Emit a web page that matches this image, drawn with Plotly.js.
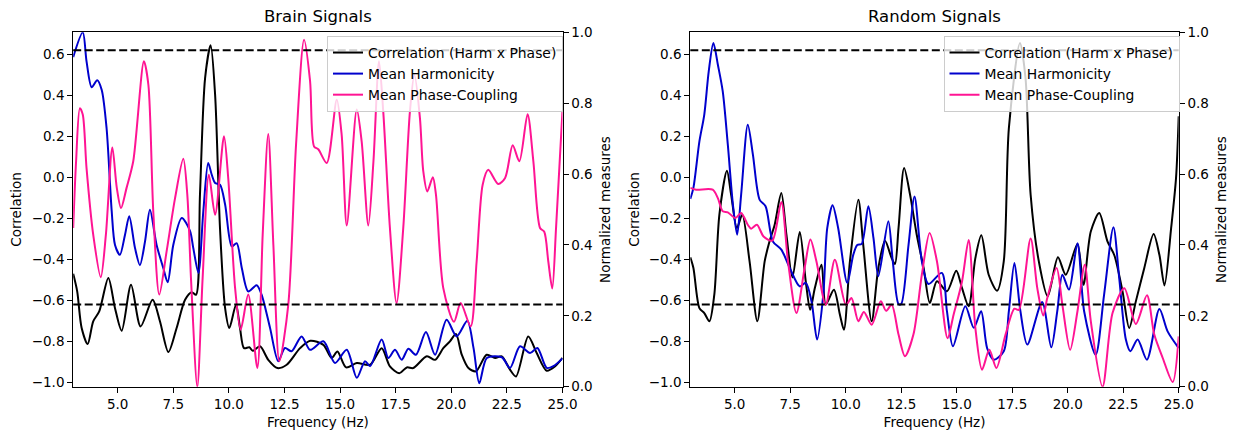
<!DOCTYPE html>
<html>
<head>
<meta charset="utf-8">
<script src="https://cdn.plot.ly/plotly-3.0.1.min.js"></script>
<style>html,body{margin:0;padding:0;background:#fff;}#chart{width:1239px;height:440px;}</style>
</head>
<body>
<div id="chart"></div>
<script>
// ---------------- DATA ----------------
const panelTitles = ["Brain Signals", "Random Signals"];
const seriesNames = ["Correlation (Harm x Phase)", "Mean Harmonicity", "Mean Phase-Coupling"];
const threshold = 0.62;
const xTicks = [5.0, 7.5, 10.0, 12.5, 15.0, 17.5, 20.0, 22.5, 25.0];
const corrTicks = [-1.0, -0.8, -0.6, -0.4, -0.2, 0.0, 0.2, 0.4, 0.6];
const normTicks = [0.0, 0.2, 0.4, 0.6, 0.8, 1.0];

// Brain signals: correlation
const bCorrX = [3.0,3.18,3.38,3.65,3.9,4.17,4.58,4.88,5.18,5.6,6.03,6.57,6.9,7.28,7.65,8.03,8.33,8.52,8.7,8.93,9.18,9.38,9.6,9.83,10.02,10.32,10.5,10.68,10.92,11.07,11.4,11.77,12.18,12.6,13.2,13.66,14.25,14.62,14.88,15.27,15.75,16.35,16.87,17.24,17.66,18.0,18.29,18.9,19.27,19.64,19.94,20.21,20.47,20.77,21.11,21.59,21.97,22.27,22.64,22.91,23.46,23.84,24.29,24.66,25.0];
const bCorrY = [-0.47,-0.556,-0.735,-0.813,-0.702,-0.654,-0.491,-0.638,-0.748,-0.524,-0.727,-0.597,-0.702,-0.852,-0.735,-0.597,-0.56,-0.573,-0.085,0.484,0.644,0.403,-0.247,-0.638,-0.735,-0.621,-0.735,-0.833,-0.829,-0.846,-0.824,-0.89,-0.93,-0.914,-0.833,-0.797,-0.817,-0.881,-0.849,-0.927,-0.906,-0.914,-0.833,-0.922,-0.955,-0.927,-0.93,-0.873,-0.89,-0.833,-0.8,-0.764,-0.865,-0.93,-0.946,-0.865,-0.881,-0.873,-0.938,-0.971,-0.776,-0.857,-0.943,-0.922,-0.88];
// Brain signals: mean harmonicity (normalized)
const bHarmX = [3.0,3.43,3.6,3.83,4.08,4.28,4.5,4.73,4.88,5.1,5.33,5.52,5.78,6.0,6.23,6.45,6.75,7.05,7.25,7.5,7.88,8.25,8.4,8.63,8.85,9.07,9.23,9.38,9.6,9.83,10.13,10.35,10.58,10.87,11.25,11.47,11.85,12.22,12.52,12.82,13.27,13.65,14.25,14.77,15.3,15.75,16.12,16.35,16.87,17.17,17.47,17.77,18.07,18.41,18.86,19.27,19.79,20.24,20.72,21.0,21.26,21.6,22.27,22.64,23.09,23.54,23.87,24.29,24.59,25.0];
const bHarmY = [0.93,1.0,0.918,0.845,0.865,0.838,0.73,0.496,0.40,0.372,0.429,0.481,0.391,0.343,0.41,0.499,0.40,0.335,0.295,0.40,0.476,0.44,0.391,0.321,0.495,0.631,0.598,0.575,0.57,0.514,0.396,0.405,0.335,0.269,0.286,0.26,0.166,0.072,0.109,0.10,0.142,0.104,0.128,0.067,0.104,0.025,0.072,0.058,0.133,0.081,0.104,0.076,0.107,0.09,0.154,0.09,0.189,0.142,0.186,0.109,0.01,0.081,0.083,0.053,0.114,0.095,0.109,0.053,0.058,0.08];
// Brain signals: mean phase-coupling (normalized)
const bPhaseX = [3.0,3.13,3.3,3.43,3.6,3.9,4.24,4.47,4.76,4.96,5.15,5.4,5.7,6.18,6.38,6.6,6.87,7.2,7.58,7.95,8.13,8.3,8.58,8.82,9.1,9.38,9.78,9.97,10.28,10.53,10.87,11.28,11.52,11.77,12.0,12.27,12.67,13.02,13.38,13.65,13.83,14.02,14.4,14.85,15.07,15.3,15.75,15.97,16.27,16.5,16.75,16.94,17.24,17.54,17.84,18.14,18.34,18.59,18.74,18.92,19.17,19.31,19.64,20.12,20.42,20.87,21.14,21.41,21.66,22.11,22.42,22.76,23.06,23.43,23.69,23.99,24.18,24.36,24.54,24.71,25.0];
const bPhaseY = [0.448,0.636,0.786,0.768,0.617,0.429,0.309,0.429,0.675,0.561,0.504,0.561,0.636,0.918,0.852,0.495,0.26,0.382,0.532,0.643,0.542,0.30,0.0,0.307,0.598,0.485,0.707,0.589,0.278,0.161,0.26,0.053,0.429,0.713,0.40,0.072,0.231,0.683,0.979,0.862,0.678,0.67,0.631,0.81,0.711,0.455,0.782,0.692,0.455,0.636,0.918,0.777,0.448,0.236,0.448,0.777,0.88,0.758,0.608,0.551,0.591,0.542,0.278,0.183,0.236,0.17,0.354,0.57,0.612,0.572,0.589,0.681,0.636,0.769,0.636,0.448,0.437,0.354,0.277,0.448,0.78];

// Random signals: correlation
const rCorrX = [3.0,3.14,3.41,3.63,3.86,4.08,4.31,4.65,4.84,5.1,5.34,5.67,6.02,6.35,6.57,6.8,7.1,7.33,7.6,7.93,8.2,8.4,8.61,8.91,9.1,9.47,9.74,9.92,10.19,10.57,10.79,11.17,11.47,11.77,12.07,12.22,12.38,12.63,12.9,13.2,13.51,13.79,14.11,14.56,14.98,15.24,15.54,15.84,16.11,16.44,16.82,17.12,17.35,17.85,18.1,18.33,18.7,19.1,19.56,19.91,20.44,20.71,21.04,21.42,21.79,22.1,22.47,22.77,23.07,23.45,23.87,24.13,24.36,24.66,24.88,25.0];
const rCorrY = [-0.39,-0.442,-0.638,-0.662,-0.702,-0.573,-0.182,0.032,-0.085,-0.247,-0.182,-0.41,-0.702,-0.41,-0.312,-0.231,-0.077,-0.28,-0.488,-0.267,-0.507,-0.646,-0.54,-0.426,-0.621,-0.548,-0.67,-0.743,-0.41,-0.109,-0.329,-0.702,-0.442,-0.309,-0.394,-0.423,-0.247,0.045,-0.085,-0.28,-0.442,-0.613,-0.507,-0.556,-0.456,-0.54,-0.629,-0.394,-0.283,-0.475,-0.553,-0.41,0.24,0.655,0.484,-0.085,-0.41,-0.58,-0.39,-0.475,-0.325,-0.524,-0.264,-0.174,-0.312,-0.38,-0.556,-0.735,-0.605,-0.442,-0.277,-0.378,-0.527,-0.247,-0.003,0.298];
// Random signals: mean harmonicity (normalized)
const rHarmX = [3.0,3.14,3.41,3.63,3.83,4.04,4.24,4.46,4.69,4.92,5.11,5.29,5.59,5.82,6.12,6.39,6.72,7.1,7.48,7.93,8.2,8.46,8.71,8.99,9.17,9.41,9.66,10.07,10.34,10.52,10.72,11.02,11.25,11.47,11.92,12.12,12.38,12.5,12.83,13.1,13.43,13.73,14.33,14.56,14.83,15.39,15.77,16.1,16.37,16.67,17.12,17.35,17.6,17.87,18.18,18.85,19.26,19.53,19.76,20.06,20.44,20.74,21.26,21.64,22.06,22.32,22.62,22.82,23.15,23.57,24.13,24.5,25.0];
const rHarmY = [0.53,0.561,0.692,0.768,0.89,0.97,0.909,0.834,0.683,0.514,0.429,0.542,0.739,0.655,0.528,0.509,0.41,0.387,0.335,0.283,0.293,0.241,0.133,0.26,0.448,0.512,0.448,0.293,0.372,0.40,0.403,0.509,0.42,0.312,0.467,0.354,0.233,0.233,0.40,0.537,0.354,0.29,0.321,0.213,0.114,0.227,0.166,0.213,0.109,0.076,0.10,0.213,0.349,0.213,0.119,0.239,0.111,0.213,0.316,0.274,0.405,0.213,0.09,0.26,0.45,0.307,0.133,0.10,0.133,0.076,0.219,0.156,0.109];
// Random signals: mean phase-coupling (normalized)
const rPhaseX = [3.0,3.26,4.01,4.24,4.46,4.69,5.03,5.29,5.59,5.74,6.0,6.3,6.69,7.1,7.4,7.78,8.15,8.41,8.68,9.1,9.51,10.01,10.26,10.57,10.82,11.17,11.58,11.82,12.07,12.38,12.67,13.05,13.43,13.78,14.11,14.59,14.86,15.24,15.54,15.84,16.14,16.47,16.79,17.2,17.6,17.8,18.33,18.63,18.9,19.08,19.5,19.76,20.11,20.44,20.77,21.04,21.57,22.02,22.55,23.07,23.57,23.9,24.28,24.73,25.0];
const rPhaseY = [0.561,0.556,0.556,0.532,0.495,0.492,0.476,0.49,0.457,0.446,0.457,0.424,0.412,0.521,0.354,0.208,0.335,0.415,0.354,0.231,0.358,0.231,0.25,0.185,0.211,0.175,0.241,0.214,0.231,0.147,0.086,0.147,0.316,0.434,0.354,0.137,0.203,0.297,0.414,0.166,0.048,0.104,0.053,0.147,0.22,0.217,0.418,0.278,0.201,0.25,0.335,0.231,0.104,0.213,0.344,0.185,0.0,0.208,0.278,0.177,0.258,0.147,0.081,0.013,0.142];

// ---------------- STYLE ----------------
const FONT = "DejaVu Sans, Liberation Sans, sans-serif";
const colors = {corr: "#000000", harm: "#0000CD", phase: "#FF1493"};
const lw = 2;
const W = 1239, H = 440;
const dom1 = [73.2 / W, 562.5 / W];
const dom2 = [690.3 / W, 1178.7 / W];
const ydom = [(H - 386.7) / H, (H - 32.3) / H];
const corrRange = [-1.021, 0.707];

function line(x, y, name, color, xa, ya, leg) {
  return {x: x, y: y, name: name, type: "scatter", mode: "lines",
    line: {color: color, width: lw, shape: "spline", smoothing: 0.8},
    xaxis: xa, yaxis: ya, legend: leg, hoverinfo: "skip"};
}

const traces = [
  line(bCorrX, bCorrY, seriesNames[0], colors.corr, "x", "y", "legend"),
  line(bHarmX, bHarmY, seriesNames[1], colors.harm, "x", "y2", "legend"),
  line(bPhaseX, bPhaseY, seriesNames[2], colors.phase, "x", "y2", "legend"),
  line(rCorrX, rCorrY, seriesNames[0], colors.corr, "x2", "y3", "legend2"),
  line(rHarmX, rHarmY, seriesNames[1], colors.harm, "x2", "y4", "legend2"),
  line(rPhaseX, rPhaseY, seriesNames[2], colors.phase, "x2", "y4", "legend2")
];

const tickFont = {family: FONT, size: 13.5, color: "#000"};
const titleFont = {family: FONT, size: 13.5, color: "#000"};

function xAxis(domain, anchor) {
  return {domain: domain, anchor: anchor, range: [3, 25], tickvals: xTicks,
    ticktext: xTicks.map(v => v.toFixed(1)), ticks: "outside", ticklen: 5, tickwidth: 1,
    tickcolor: "#000", showline: true, linecolor: "#000", linewidth: 1, mirror: true,
    showgrid: false, zeroline: false, tickfont: tickFont,
    title: {text: "Frequency (Hz)", font: titleFont, standoff: 6}};
}
function corrAxis(domain, anchor) {
  return {domain: domain, anchor: anchor, range: corrRange, tickvals: corrTicks,
    ticktext: corrTicks.map(v => (v < 0 ? "\u2212" + Math.abs(v).toFixed(1) : v.toFixed(1))),
    ticks: "outside", ticklen: 5, tickwidth: 1, tickcolor: "#000", showline: true,
    linecolor: "#000", linewidth: 1, showgrid: false, zeroline: false, tickfont: tickFont,
    title: {text: "Correlation", font: titleFont, standoff: 6}};
}
function normAxis(overlay, anchor) {
  return {overlaying: overlay, anchor: anchor, side: "right", range: [0, 1], tickvals: normTicks,
    ticktext: normTicks.map(v => v.toFixed(1)), ticks: "outside", ticklen: 5, tickwidth: 1,
    tickcolor: "#000", showline: true, linecolor: "#000", linewidth: 1, showgrid: false,
    zeroline: false, tickfont: tickFont,
    title: {text: "Normalized measures", font: titleFont, standoff: 8}};
}

function dashed(xref, yref, v) {
  return {type: "line", xref: xref, yref: yref, x0: 0, x1: 1, y0: v, y1: v,
    line: {color: "#000", width: 2, dash: "8px,3.5px"}, layer: "above"};
}

const legendStyle = {
  bgcolor: "rgba(255,255,255,0.8)", bordercolor: "#cccccc", borderwidth: 1,
  font: {family: FONT, size: 13.9, color: "#000"}, xanchor: "right", yanchor: "top",
  tracegroupgap: 0, itemwidth: 30
};

const layout = {
  width: W, height: H, margin: {l: 0, r: 0, t: 0, b: 0},
  paper_bgcolor: "#fff", plot_bgcolor: "#fff",
  font: {family: FONT, color: "#000"},
  showlegend: true,
  legend: Object.assign({x: 563 / W, y: (H - 36) / H}, legendStyle),
  legend2: Object.assign({x: 1179.5 / W, y: (H - 36) / H}, legendStyle),
  xaxis: xAxis(dom1, "y"),
  yaxis: corrAxis(ydom, "x"),
  yaxis2: normAxis("y", "x"),
  xaxis2: xAxis(dom2, "y3"),
  yaxis3: corrAxis(ydom, "x2"),
  yaxis4: normAxis("y3", "x2"),
  shapes: [dashed("x domain", "y", threshold), dashed("x domain", "y", -threshold),
           dashed("x2 domain", "y3", threshold), dashed("x2 domain", "y3", -threshold)],
  annotations: [
    {text: panelTitles[0], xref: "paper", yref: "paper", x: (dom1[0] + dom1[1]) / 2, xanchor: "center",
     y: ydom[1], yanchor: "bottom", yshift: 4, showarrow: false, font: {family: FONT, size: 16.5, color: "#000"}},
    {text: panelTitles[1], xref: "paper", yref: "paper", x: (dom2[0] + dom2[1]) / 2, xanchor: "center",
     y: ydom[1], yanchor: "bottom", yshift: 4, showarrow: false, font: {family: FONT, size: 16.5, color: "#000"}}
  ]
};
layout.yaxis2.domain = ydom;
layout.yaxis4.domain = ydom;

Plotly.newPlot("chart", traces, layout, {staticPlot: true, displayModeBar: false});
</script>
</body>
</html>
